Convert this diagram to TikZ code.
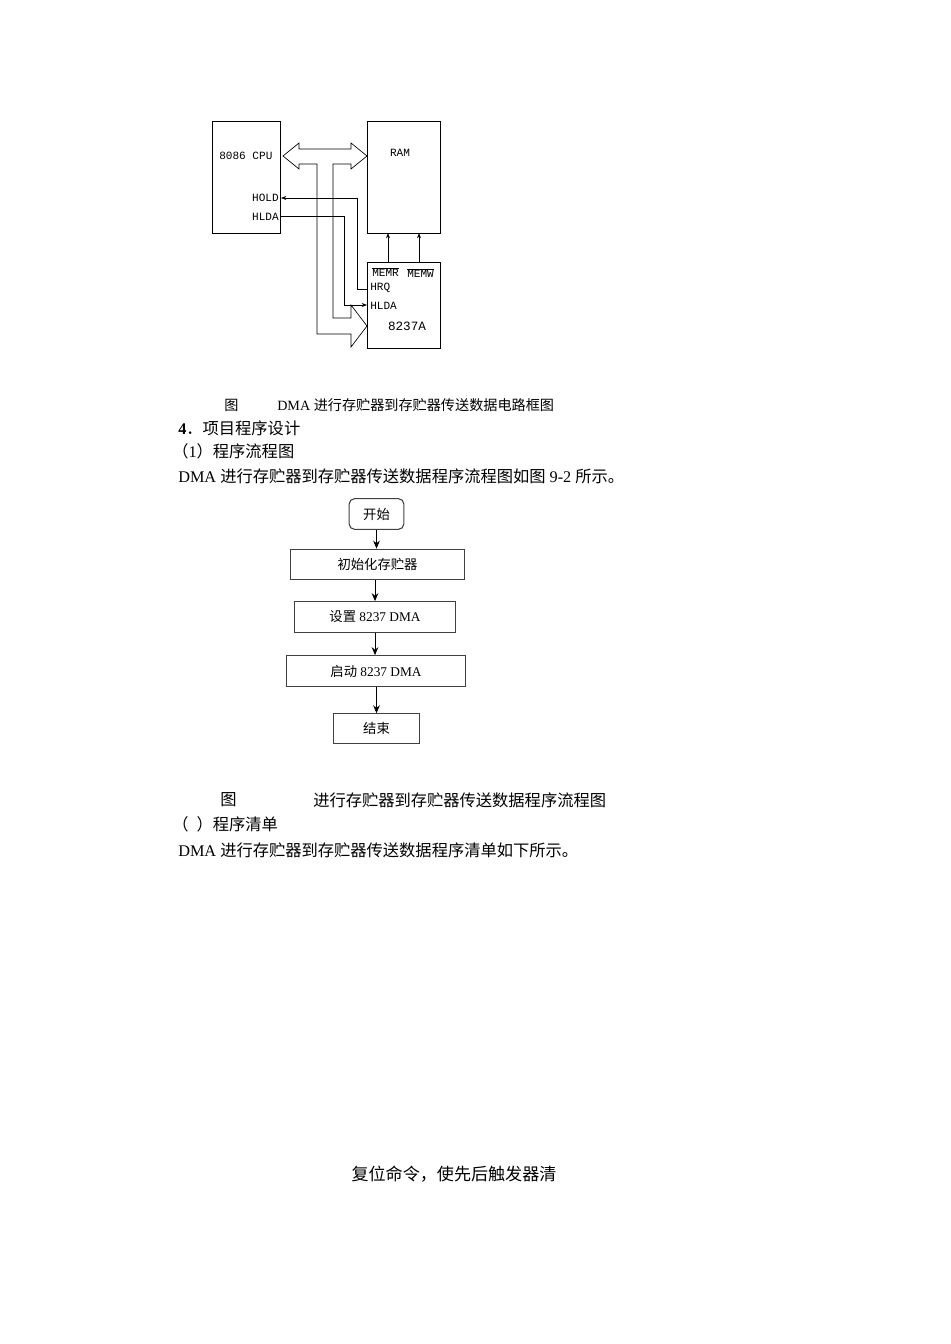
\documentclass[tikz,border=0pt]{standalone}
\usepackage{fontspec}
\setmainfont{Liberation Serif}
\newfontfamily\cjk{Noto Sans CJK SC}
\newfontfamily\mono{Liberation Mono}
\usetikzlibrary{arrows.meta}
\begin{document}
\begin{tikzpicture}[x=0.75pt,y=-0.75pt,
  blk/.style={draw,line width=0.6pt},
  sig/.style={line width=0.5pt},
  lab/.style={font=\mono\fontsize{8.3}{9}\selectfont,inner sep=0},
  txt/.style={anchor=west,inner sep=0,font=\fontsize{12.2}{14}\selectfont},
  captxt/.style={anchor=west,inner sep=0,font=\fontsize{10.6}{12}\selectfont},
  fbox/.style={draw=black!75,line width=0.8pt,minimum height=23pt,font=\fontsize{10}{11}\selectfont},
  farr/.style={-{Stealth[length=6pt,width=5pt]},line width=0.7pt}]
\useasboundingbox (0,0) rectangle (950,1344);
% circuit
\draw[blk] (212,121) rectangle (280,233);
\draw[blk] (367,121) rectangle (440,233);
\draw[blk] (367,262) rectangle (440,348);
\draw[sig] (283,156) -- (299,143) -- (299,149) -- (351,149) -- (351,143) -- (367,156) -- (351,169) -- (351,164) -- (333,164) -- (333,318) -- (351,318) -- (351,305) -- (367,326) -- (351,347) -- (351,334) -- (317,334) -- (317,164) -- (299,164) -- (299,169) -- cycle;
\coordinate (hrq) at (367,289);
\coordinate (hold) at (281,198);
\coordinate (hldac) at (280,216);
\coordinate (hldad) at (367,305);
\draw[sig,-{Stealth[length=4pt,width=3pt]}] (hrq) -- (357,289) -- (357,198) -- (hold);
\draw[sig,-{Stealth[length=4pt,width=3pt]}] (hldac) -- (344,216) -- (344,305) -- (hldad);
\draw[sig,-{Stealth[length=4pt,width=3pt]}] (388,262) -- (388,233);
\draw[sig,-{Stealth[length=4pt,width=3pt]}] (419,262) -- (419,233);
\node[lab,anchor=west] (cpu) at (219,156) {8086 CPU};
\node[lab,anchor=east] (holdl) at (279,198) {HOLD};
\node[lab,anchor=east] (hldal) at (279,217) {HLDA};
\node[lab] (ram) at (400,153) {RAM};
\node[lab,anchor=west] (memr) at (372,272) {$\overline{\mbox{MEMR}}$};
\node[lab,anchor=west] (memw) at (407,273) {$\overline{\mbox{MEMW}}$};
\node[lab,anchor=west] (hrql) at (370,288) {HRQ};
\node[lab,anchor=west] (hlda2) at (370,306) {HLDA};
\node[lab,font=\mono\fontsize{9.5}{10}\selectfont] (dma) at (407,326) {8237A};
% captions
\node[captxt] (c1a) at (224,405) {\cjk 图};
\node[captxt] (c1b) at (277,405) {DMA {\cjk 进行存贮器到存贮器传送数据电路框图}};
\node[txt] (t1) at (178,428) {\textbf{4}{\cjk ．项目程序设计}};
\node[txt] (t2) at (172,451) {{\cjk （}1{\cjk ）程序流程图}};
\node[txt] (t3) at (178,476) {DMA {\cjk 进行存贮器到存贮器传送数据程序流程图如图} 9-2 {\cjk 所示。}};
% flowchart
\node[fbox,rounded corners=4pt,minimum width=41pt] (s) at (376.5,514) {\cjk 开始};
\node[fbox,minimum width=131pt] (a) at (377.5,564.5) {\cjk 初始化存贮器};
\node[fbox,minimum width=121pt] (b) at (375,617) {{\cjk 设置} 8237 DMA};
\node[fbox,minimum width=134pt] (c) at (376,671) {{\cjk 启动} 8237 DMA};
\node[fbox,minimum width=65pt,minimum height=22pt] (e) at (376.5,728.5) {\cjk 结束};
\draw[farr] (s) -- (s|-a.north);
\draw[farr] (a.south-|b) -- (b);
\draw[farr] (b) -- (b|-c.north);
\draw[farr] (c.south-|e) -- (e);
\node[txt] (c2a) at (220,800) {\cjk 图};
\node[txt] (c2b) at (313,800) {\cjk 进行存贮器到存贮器传送数据程序流程图};
\node[txt] (t4) at (172,824) {\cjk （\hspace{0.5em}）程序清单};
\node[txt] (t5) at (178,850) {DMA {\cjk 进行存贮器到存贮器传送数据程序清单如下所示。}};
\node[txt,anchor=center,font=\fontsize{12.8}{14}\selectfont] (t6) at (454,1174) {\cjk 复位命令，使先后触发器清};
\end{tikzpicture}
\end{document}
